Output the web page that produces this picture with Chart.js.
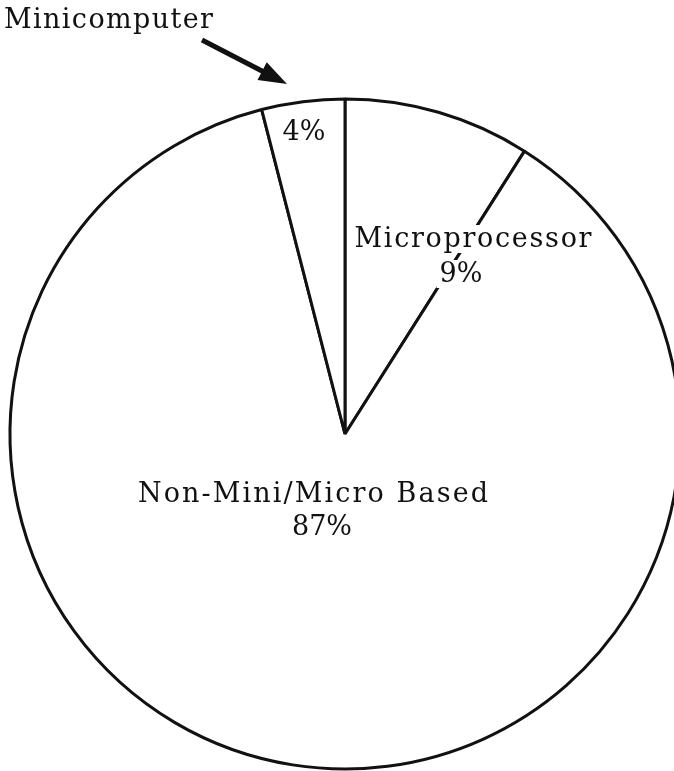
<!DOCTYPE html>
<html>
<head>
<meta charset="utf-8">
<script src="https://cdn.jsdelivr.net/npm/chart.js@4"></script>
<style>
  html, body { margin: 0; padding: 0; background: #fff; overflow: hidden; width: 674px; height: 771px; }
  #wrap { position: absolute; left: 0; top: 0; width: 700px; height: 800px; }
</style>
</head>
<body>
<div id="wrap"><canvas id="c" width="700" height="800"></canvas></div>
<script>
// Data
const categories = ['Microprocessor', 'Non-Mini/Micro Based', 'Minicomputer'];
const shares = [9, 87, 4];
const shareLabels = ['9%', '87%', '4%'];

const FONT = '27px "DejaVu Serif", "Liberation Serif", serif';

function drawSpaced(ctx, text, x, y, targetWidth, align, knockout) {
  ctx.save();
  ctx.font = FONT;
  ctx.letterSpacing = '0px';
  const n = text.length;
  const w0 = ctx.measureText(text).width;
  const sp = n > 1 ? Math.max(0, (targetWidth - w0) / (n - 1)) : 0;
  ctx.letterSpacing = sp + 'px';
  const w = w0 + sp * (n - 1);
  let left = x;
  if (align === 'center') left = x - w / 2;
  if (knockout) {
    ctx.fillStyle = '#ffffff';
    ctx.fillRect(left - 3, y - 22, w + 6, 28);
  }
  ctx.textAlign = 'left';
  ctx.textBaseline = 'alphabetic';
  ctx.fillStyle = '#111';
  ctx.fillText(text, left, y);
  ctx.restore();
}

const labelPlugin = {
  id: 'labels',
  afterDraw(chart) {
    const ctx = chart.ctx;
    const arc = chart.getDatasetMeta(0).data[0];
    const cx = arc.x, cy = arc.y;
    // Microprocessor
    drawSpaced(ctx, categories[0], cx + 128, cy - 187, 237, 'center', true);
    drawSpaced(ctx, shareLabels[0], cx + 116, cy - 152, 38, 'center', true);
    // Non-Mini/Micro Based
    drawSpaced(ctx, categories[1], cx - 32, cy + 68, 350, 'center');
    drawSpaced(ctx, shareLabels[1], cx - 23, cy + 101, 55, 'center');
    // Minicomputer slice value
    drawSpaced(ctx, shareLabels[2], cx - 41, cy - 294, 38, 'center');
    // Minicomputer callout text and arrow
    drawSpaced(ctx, categories[2], 4, 28, 209, 'left');
    const x1 = 202, y1 = 40, x2 = 287, y2 = 84;
    const ang = Math.atan2(y2 - y1, x2 - x1);
    const headLen = 28, headW = 10;
    const bx = x2 - headLen * Math.cos(ang), by = y2 - headLen * Math.sin(ang);
    ctx.save();
    ctx.strokeStyle = '#111';
    ctx.fillStyle = '#111';
    ctx.lineWidth = 5;
    ctx.beginPath();
    ctx.moveTo(x1, y1);
    ctx.lineTo(bx + 2 * Math.cos(ang), by + 2 * Math.sin(ang));
    ctx.stroke();
    ctx.beginPath();
    ctx.moveTo(x2, y2);
    ctx.lineTo(bx + headW * Math.sin(ang), by - headW * Math.cos(ang));
    ctx.lineTo(bx - headW * Math.sin(ang), by + headW * Math.cos(ang));
    ctx.closePath();
    ctx.fill();
    ctx.restore();
  }
};

new Chart(document.getElementById('c'), {
  type: 'pie',
  data: {
    labels: categories,
    datasets: [{
      data: shares,
      backgroundColor: '#ffffff',
      borderColor: '#111111',
      borderWidth: 3,
      borderJoinStyle: 'bevel',
      borderAlign: 'center',
      hoverOffset: 0
    }]
  },
  options: {
    responsive: false,
    animation: false,
    radius: 335,
    rotation: 0,
    layout: { padding: { left: 10, top: 99, right: 20, bottom: 31 } },
    plugins: {
      legend: { display: false },
      tooltip: { enabled: false }
    }
  },
  plugins: [labelPlugin]
});
</script>
</body>
</html>
